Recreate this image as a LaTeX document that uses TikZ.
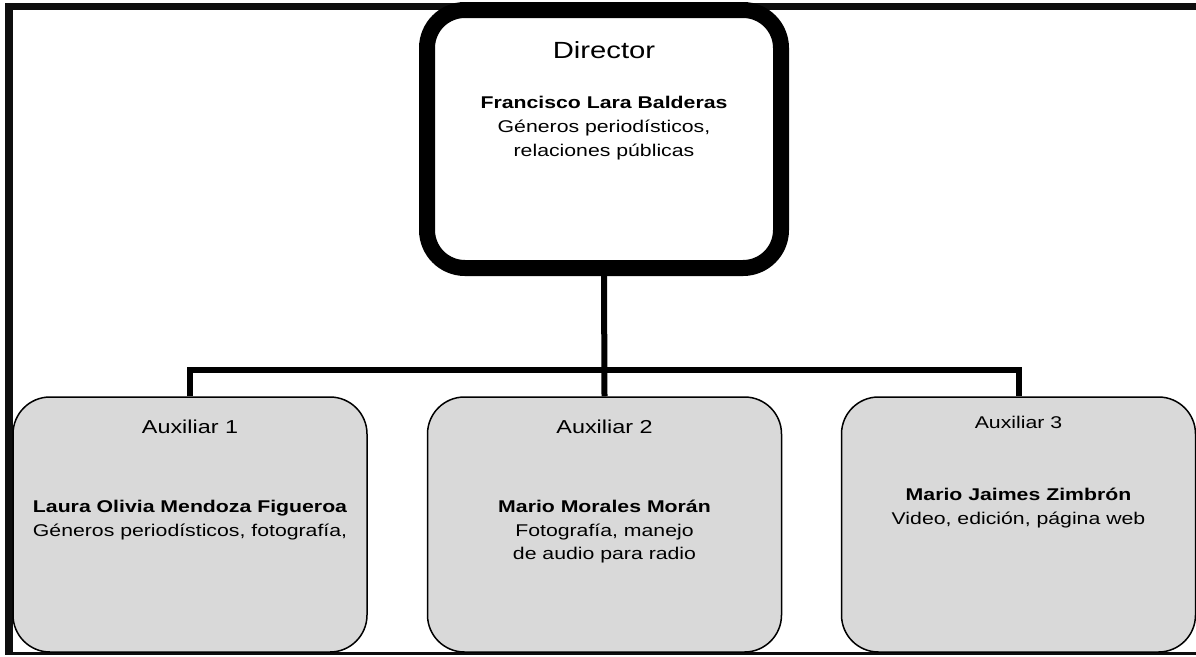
\documentclass[tikz,border=0pt]{standalone}
\usepackage{fontspec}
\setmainfont{Liberation Sans}[FakeStretch=1.25]
\definecolor{boxgray}{RGB}{217,217,217}
\definecolor{framecol}{RGB}{14,14,14}
\begin{document}
\begin{tikzpicture}[x=1pt,y=-1pt,
  dirbox/.style={draw=black, line width=16pt, rounded corners=38pt, fill=white,
    minimum width=354pt, minimum height=258pt, inner sep=0pt},
  auxbox/.style={draw=black, line width=1.5pt, rounded corners=37pt, fill=boxgray,
    minimum width=354pt, minimum height=255pt, inner sep=0pt},
  conn/.style={line width=6pt, black},
  ln/.style={anchor=base, inner sep=0pt, font=\fontsize{17}{20}\selectfont},
  nm/.style={anchor=base, inner sep=0pt, font=\fontsize{17}{20}\selectfont\bfseries},
  ttl/.style={anchor=base, inner sep=0pt, font=\fontsize{18.7}{22}\selectfont},
]
\useasboundingbox (0,0) rectangle (1196,656);
% frame
\fill[framecol] (5,3) rectangle (1196,10);
\fill[framecol] (5,3) rectangle (13,655);
\fill[framecol] (5,652) rectangle (1196,655);

% boxes
\node[dirbox] (dir) at (604,139) {};
\node[auxbox] (a1) at (190,524.5) {};
\node[auxbox] (a2) at (604.5,524.5) {};
\node[auxbox] (a3) at (1018.5,524.5) {};

% connectors
\coordinate (bus) at (604,370);
\draw[conn] (dir.south) -- (a2.north);
\draw[conn] (a1.north) -- (a1.north |- bus) -- (a3.north |- bus) -- (a3.north);

% director text
\node[anchor=base, inner sep=0pt, font=\fontsize{23.4}{27}\selectfont] (dt) at (604,58) {Director};
\node[nm] (dn) at (604,108) {Francisco Lara Balderas};
\node[ln] (dl1) at (604,132) {Géneros periodísticos,};
\node[ln] (dl2) at (604,156) {relaciones públicas};

% auxiliar 1
\node[ttl] (t1) at (190,433) {Auxiliar 1};
\node[nm] (n1) at (190,512) {Laura Olivia Mendoza Figueroa};
\node[ln] (l1) at (190,536) {Géneros periodísticos, fotografía,};

% auxiliar 2
\node[ttl] (t2) at (604.5,433) {Auxiliar 2};
\node[nm] (n2) at (604.5,512) {Mario Morales Morán};
\node[ln] (l2a) at (604.5,536) {Fotografía, manejo};
\node[ln] (l2b) at (604.5,559) {de audio para radio};

% auxiliar 3
\node[anchor=base, inner sep=0pt, font=\fontsize{17}{20}\selectfont] (t3) at (1018.5,428) {Auxiliar 3};
\node[nm] (n3) at (1018.5,500) {Mario Jaimes Zimbrón};
\node[ln] (l3) at (1018.5,524) {Video, edición, página web};
\end{tikzpicture}
\end{document}
